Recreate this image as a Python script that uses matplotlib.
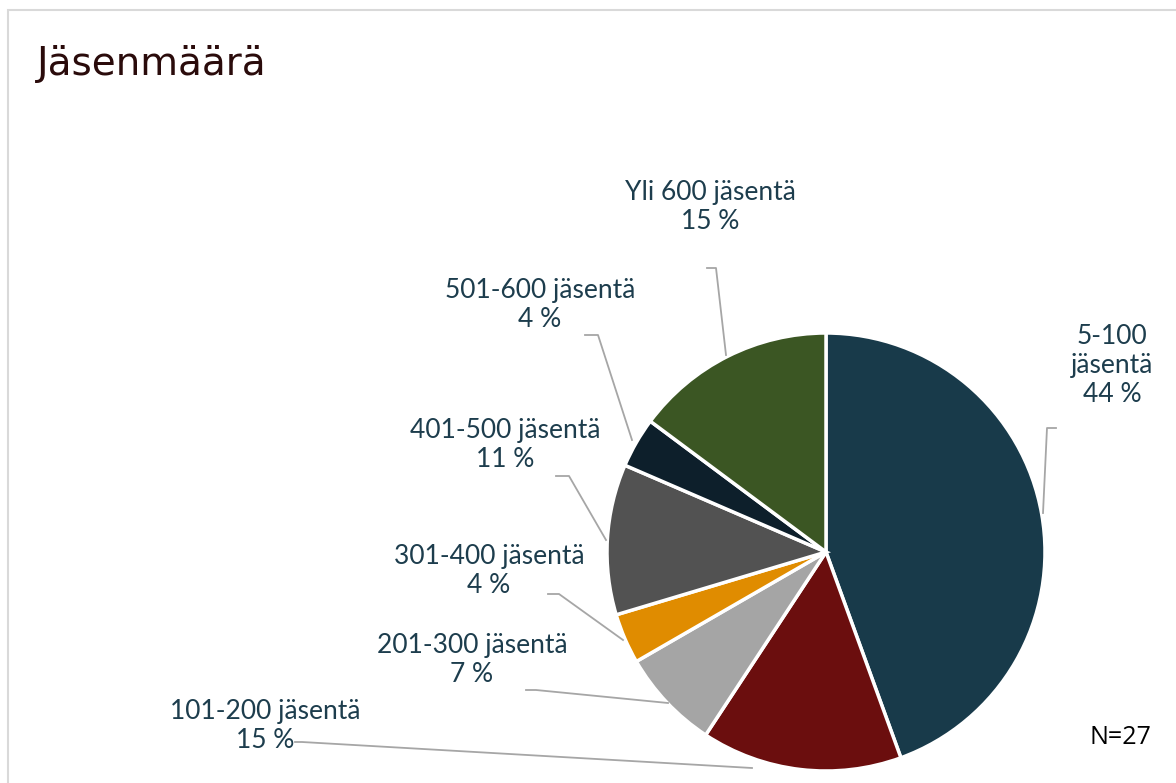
import matplotlib
matplotlib.use("Agg")
import matplotlib.pyplot as plt
from matplotlib.lines import Line2D
from matplotlib.patches import Rectangle

# Data
categories = ["5-100 jäsentä", "101-200 jäsentä", "201-300 jäsentä", "301-400 jäsentä",
              "401-500 jäsentä", "501-600 jäsentä", "Yli 600 jäsentä"]
counts = [12, 4, 2, 1, 3, 1, 4]
percent_labels = ["44 %", "15 %", "7 %", "4 %", "11 %", "4 %", "15 %"]
colors = ["#183a4a", "#6b0e0e", "#a5a5a5", "#e08c00", "#525252", "#0d1f2b", "#3b5623"]
title = "Jäsenmäärä"
n_label = "N=27"

W, H = 1176, 783
fig = plt.figure(figsize=(W / 100, H / 100), dpi=100)
ax = fig.add_axes([0, 0, 1, 1])

def Y(py):
    return H - py

cx, cy, R = 826, 552, 219
ax.pie(counts, colors=colors, startangle=90, counterclock=False,
       center=(cx, Y(cy)), radius=R, frame=True,
       wedgeprops=dict(edgecolor="white", linewidth=2.5))
ax.set_xlim(0, W)
ax.set_ylim(0, H)
ax.set_aspect("auto")
ax.axis("off")

# border
ax.add_patch(Rectangle((7.5, Y(1000)), 1300, 1000 - 9.5, fill=False,
                       edgecolor="#d9d9d9", linewidth=1.5))

label_font = ["Lato", "DejaVu Sans"]
tcol = "#1d3d4d"
label_pos = [(1112, 366), (265, 726), (472, 660), (489, 571), (505, 445), (540, 305), (710, 207)]
multiline = [True, False, False, False, False, False, False]
leaders = [
    [(1056, 428), (1047, 428), (1043, 513)],
    [(295, 742), (302, 742), (752, 768)],
    [(526, 690), (536, 690), (668, 703)],
    [(548, 594), (559, 594), (623, 640)],
    [(556, 476), (569, 476), (606, 540)],
    [(585, 335), (598, 335), (632, 440)],
    [(707, 268), (716, 268), (726, 355)],
]
for i, cat in enumerate(categories):
    if multiline[i]:
        parts = cat.split(" ")
        txt = parts[0] + "\n" + parts[1] + "\n" + percent_labels[i]
    else:
        txt = cat + "\n" + percent_labels[i]
    x, y = label_pos[i]
    ax.text(x, Y(y), txt, ha="center", va="center", fontsize=19,
            family=label_font, color=tcol, linespacing=1.2)
    pts = leaders[i]
    ax.add_line(Line2D([p[0] for p in pts], [Y(p[1]) for p in pts],
                       color="#a6a6a6", linewidth=1.3))

ax.text(37, Y(64), title, ha="left", va="center", fontsize=28,
        family=["DejaVu Sans"], color="#2a0b0b")
ax.text(1120, Y(737), n_label, ha="center", va="center", fontsize=18,
        family=["Open Sans", "DejaVu Sans"], color="black")

fig.savefig("out.png", dpi=100)
